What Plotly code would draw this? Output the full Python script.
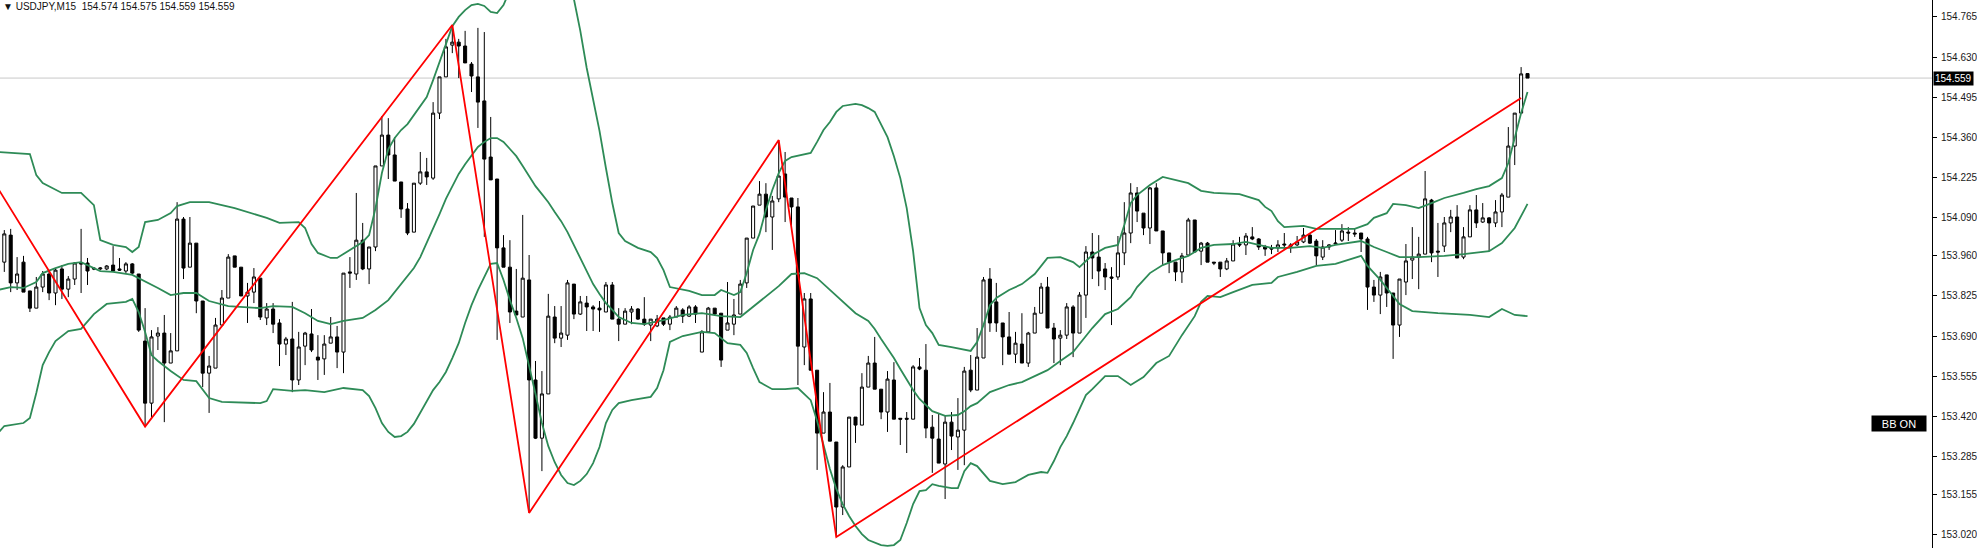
import plotly.graph_objects as go

# ---------------- data (USDJPY M15) ----------------
opens = [153.939,154.030,153.869,153.939,153.842,153.784,153.855,153.899,153.835,153.916,
153.848,153.882,153.936,153.936,153.919,153.916,153.916,153.929,153.916,153.909,
153.933,153.899,153.673,153.464,153.690,153.700,153.599,153.640,154.084,153.922,
154.003,153.808,153.565,153.582,153.727,153.818,153.960,153.922,153.825,153.838,
153.885,153.751,153.781,153.734,153.663,153.680,153.542,153.656,153.697,153.619,
153.613,153.666,153.687,153.636,153.906,153.899,154.013,153.916,153.990,154.263,
154.367,154.300,154.209,154.118,154.040,154.205,154.243,154.222,154.441,154.563,
154.670,154.680,154.667,154.606,154.563,154.482,154.293,154.219,153.987,153.922,
153.774,153.754,153.879,153.542,153.346,153.495,153.754,153.683,153.693,153.865,
153.764,153.801,153.788,153.784,153.771,153.862,153.747,153.730,153.771,153.781,
153.747,153.727,153.724,153.751,153.730,153.754,153.778,153.757,153.788,153.636,
153.704,153.784,153.767,153.710,153.730,153.764,153.869,154.020,154.131,154.168,
154.091,154.152,154.236,154.155,154.125,153.653,153.815,153.575,153.363,153.434,
153.333,153.114,153.249,153.417,153.390,153.518,153.599,153.511,153.434,153.542,
153.413,153.413,153.410,153.586,153.575,153.383,153.343,153.259,153.400,153.350,
153.373,153.575,153.508,153.616,153.882,153.805,153.734,153.687,153.629,153.663,
153.599,153.700,153.767,153.855,153.717,153.683,153.693,153.788,153.700,153.828,
153.973,153.956,153.916,153.889,153.889,153.970,154.037,154.172,154.104,154.054,
154.189,154.044,153.970,153.939,153.906,153.963,154.081,153.976,154.003,153.939,
153.939,153.916,153.943,154.000,153.997,154.024,154.017,153.990,153.987,153.987,
154.000,153.997,153.997,154.007,154.030,154.010,153.956,153.990,154.000,154.013,
154.040,154.037,154.037,154.017,153.855,153.828,153.896,153.835,153.727,153.872,
153.946,153.956,153.966,154.148,153.976,153.993,154.071,154.091,153.956,154.024,
154.115,154.074,154.088,154.071,154.108,154.158,154.330,154.441,154.574]

highs = [154.047,154.051,153.956,153.960,153.842,153.889,153.909,153.909,153.919,153.929,
153.892,153.939,154.051,153.953,153.922,153.922,153.929,153.993,153.953,153.939,
153.936,153.899,153.784,153.710,153.720,153.761,153.700,154.141,154.091,154.091,
154.003,153.808,153.623,153.751,153.845,153.966,153.960,153.922,153.869,153.919,
153.885,153.801,153.801,153.747,153.687,153.805,153.704,153.704,153.781,153.693,
153.693,153.754,153.724,153.902,153.956,154.172,154.071,153.990,154.263,154.431,
154.424,154.360,154.209,154.138,154.205,154.310,154.290,154.478,154.563,154.691,
154.738,154.691,154.718,154.613,154.728,154.714,154.428,154.219,154.030,154.013,
153.916,154.098,153.963,153.606,153.572,153.832,153.791,153.791,153.879,153.865,
153.825,153.825,153.794,153.808,153.872,153.872,153.784,153.784,153.791,153.784,
153.821,153.747,153.761,153.751,153.761,153.791,153.784,153.794,153.794,153.710,
153.788,153.784,153.767,153.872,153.815,153.879,154.020,154.128,154.212,154.205,
154.162,154.350,154.310,154.155,154.155,153.835,153.835,153.575,153.501,153.532,
153.333,153.255,153.417,153.417,153.565,153.623,153.687,153.511,153.572,153.602,
153.413,153.434,153.592,153.616,153.663,153.424,153.431,153.424,153.434,153.481,
153.586,153.626,153.717,153.889,153.919,153.869,153.734,153.771,153.704,153.767,
153.704,153.788,153.869,153.889,153.734,153.710,153.801,153.794,153.838,153.993,
154.037,154.030,153.936,153.922,154.027,154.141,154.205,154.192,154.104,154.192,
154.205,154.044,153.970,153.939,153.970,154.088,154.081,154.007,154.007,153.939,
153.939,153.953,154.013,154.024,154.037,154.057,154.020,153.997,153.997,154.013,
154.037,154.003,154.027,154.054,154.037,154.017,154.013,154.000,154.047,154.067,
154.057,154.051,154.037,154.024,153.879,153.906,153.896,153.835,153.882,154.000,
154.057,154.024,154.246,154.152,154.071,154.091,154.115,154.131,154.057,154.131,
154.165,154.138,154.091,154.148,154.172,154.394,154.441,154.596,154.575]

lows = [153.906,153.838,153.845,153.838,153.771,153.784,153.838,153.811,153.794,153.815,
153.821,153.862,153.835,153.862,153.912,153.912,153.912,153.909,153.909,153.902,
153.899,153.704,153.385,153.417,153.643,153.400,153.599,153.640,153.882,153.922,
153.767,153.518,153.431,153.582,153.727,153.818,153.922,153.825,153.734,153.801,
153.744,153.727,153.700,153.589,153.626,153.501,153.525,153.592,153.636,153.542,
153.559,153.666,153.582,153.565,153.852,153.879,153.912,153.865,153.976,154.263,
154.219,154.212,154.088,154.030,154.040,154.199,154.199,154.216,154.421,154.563,
154.643,154.559,154.610,154.512,154.391,154.024,154.216,153.677,153.922,153.734,
153.761,153.754,153.094,153.343,153.235,153.495,153.666,153.653,153.677,153.747,
153.761,153.707,153.707,153.704,153.771,153.747,153.673,153.730,153.730,153.744,
153.724,153.673,153.720,153.724,153.710,153.754,153.734,153.754,153.734,153.636,
153.704,153.761,153.586,153.710,153.693,153.764,153.852,154.020,154.131,154.040,
153.980,154.141,154.074,154.047,153.525,153.592,153.575,153.239,153.363,153.336,
153.013,153.087,153.249,153.330,153.390,153.518,153.511,153.410,153.367,153.410,
153.323,153.296,153.410,153.575,153.346,153.229,153.262,153.141,153.306,153.239,
153.255,153.501,153.508,153.616,153.704,153.704,153.592,153.629,153.599,153.599,
153.586,153.700,153.767,153.717,153.599,153.592,153.680,153.619,153.700,153.751,
153.882,153.858,153.845,153.727,153.879,153.929,154.003,154.074,154.030,154.000,
154.044,153.929,153.902,153.875,153.869,153.963,153.973,153.929,153.939,153.929,
153.889,153.912,153.943,153.990,153.963,154.013,153.980,153.960,153.966,153.973,
153.980,153.970,153.993,154.003,154.000,153.929,153.946,153.980,153.997,154.007,
154.010,154.024,153.973,153.778,153.805,153.764,153.788,153.613,153.687,153.828,
153.882,153.848,153.966,153.939,153.889,153.973,154.040,153.953,153.949,154.024,
154.054,154.071,153.976,154.057,154.057,154.158,154.266,154.441,154.559]

closes = [154.034,153.869,153.899,153.838,153.784,153.855,153.899,153.835,153.912,153.848,
153.882,153.936,153.933,153.909,153.916,153.919,153.926,153.909,153.912,153.933,
153.902,153.710,153.464,153.687,153.700,153.599,153.640,154.084,153.919,154.003,
153.808,153.565,153.589,153.727,153.818,153.956,153.922,153.825,153.838,153.889,
153.754,153.781,153.730,153.663,153.680,153.542,153.653,153.700,153.643,153.609,
153.663,153.687,153.636,153.902,153.902,154.013,153.916,153.990,154.263,154.367,
154.300,154.212,154.118,154.037,154.205,154.243,154.226,154.441,154.563,154.664,
154.680,154.667,154.610,154.566,154.478,154.286,154.216,153.987,153.922,153.771,
153.761,153.885,153.542,153.346,153.495,153.757,153.683,153.700,153.869,153.764,
153.805,153.788,153.781,153.778,153.862,153.747,153.730,153.774,153.781,153.747,
153.730,153.747,153.747,153.730,153.754,153.784,153.757,153.788,153.764,153.704,
153.784,153.764,153.609,153.734,153.761,153.865,154.020,154.128,154.168,154.091,
154.145,154.229,154.158,154.125,153.656,153.815,153.575,153.363,153.434,153.336,
153.114,153.249,153.417,153.390,153.518,153.599,153.511,153.434,153.545,153.410,
153.410,153.410,153.586,153.579,153.380,153.346,153.262,153.400,153.353,153.373,
153.572,153.508,153.619,153.879,153.734,153.734,153.687,153.629,153.666,153.599,
153.700,153.767,153.855,153.717,153.680,153.693,153.788,153.700,153.828,153.973,
153.953,153.909,153.889,153.885,153.970,154.037,154.172,154.111,154.054,154.189,
154.044,153.970,153.939,153.906,153.960,154.081,153.973,154.003,153.939,153.936,
153.916,153.943,154.000,153.997,154.027,154.017,153.990,153.983,153.983,153.997,
153.997,153.993,154.007,154.030,154.003,153.960,153.990,153.997,154.003,154.044,
154.037,154.034,154.017,153.855,153.828,153.889,153.835,153.727,153.882,153.943,
153.956,153.966,154.152,153.970,153.973,154.071,154.091,153.953,154.024,154.115,
154.071,154.088,154.071,154.108,154.165,154.330,154.441,154.573,154.559]

bars = list(range(len(closes)))

# Bollinger bands
bb_up_idx = [-1,4,5,6,9,12,14,15,17,19,20,21,22,24,26,27,29,32,36,41,43,46,47,48,49,51,52,54,56,57,
58,59,60,61,62,63,65,66,67,68,69,70,71,72,73,74,75,76,77,78,80,83,86,88,89,90,91,92,93,94,
95,96,97,99,101,102,103,104,107,109,111,112,114,115,116,117,118,119,120,121,122,123,125,126,127,128,129,130,
131,133,134,135,136,137,138,139,140,141,142,143,144,145,146,148,150,151,152,153,154,155,157,159,161,163,
165,167,168,170,172,174,175,176,177,179,181,183,185,187,189,193,196,197,198,199,200,203,205,209,211,213,
214,216,217,219,221,223,225,228,230,232,234,235,236,237,238]
bb_up = [154.310,154.303,154.232,154.205,154.172,154.172,154.131,154.013,153.997,153.990,153.973,153.990,154.074,154.081,154.104,154.128,154.141,154.141,154.121,154.088,154.071,154.074,154.054,154.000,153.970,153.953,153.953,153.980,154.007,154.030,
154.121,154.239,154.320,154.357,154.384,154.404,154.462,154.495,154.552,154.613,154.677,154.734,154.765,154.788,154.805,154.809,154.802,154.782,154.778,154.805,154.906,154.990,154.957,154.873,154.825,154.718,154.593,154.492,154.381,154.256,
154.138,154.037,154.010,153.987,153.973,153.953,153.912,153.855,153.842,153.828,153.828,153.845,153.828,153.838,153.902,153.980,154.034,154.115,154.182,154.239,154.280,154.293,154.303,154.307,154.344,154.384,154.411,154.445,
154.465,154.472,154.468,154.458,154.445,154.404,154.360,154.296,154.222,154.121,153.976,153.784,153.727,153.700,153.660,153.653,153.646,153.640,153.670,153.727,153.794,153.818,153.845,153.865,153.899,153.953,
153.956,153.939,153.922,153.963,153.987,153.997,154.064,154.138,154.165,154.199,154.226,154.216,154.205,154.179,154.172,154.168,154.148,154.125,154.111,154.077,154.057,154.061,154.051,154.051,154.051,154.067,
154.088,154.104,154.135,154.131,154.121,154.138,154.155,154.172,154.185,154.195,154.222,154.273,154.357,154.441,154.512]

bb_mid_idx = [-1,1,3,5,6,8,10,12,15,17,20,22,24,26,28,30,32,35,40,42,45,47,49,51,53,56,58,60,62,64,
65,66,67,68,69,70,71,72,73,74,75,76,77,78,79,80,81,82,83,84,85,86,87,88,89,90,91,92,93,94,
95,96,98,100,103,106,109,112,115,117,119,121,123,125,127,129,131,133,135,136,137,138,139,140,141,142,143,144,145,147,
149,150,151,152,154,157,159,161,163,165,167,168,170,172,174,176,177,179,181,183,185,187,189,192,194,196,198,201,204,206,
208,212,214,216,218,221,225,228,232,234,236,238]
bb_mid = [153.845,153.855,153.852,153.872,153.902,153.919,153.933,153.939,153.909,153.906,153.896,153.875,153.852,153.828,153.835,153.835,153.808,153.791,153.784,153.791,153.788,153.767,153.741,153.730,153.741,153.751,153.778,153.811,153.865,153.919,
153.956,154.003,154.051,154.101,154.152,154.195,154.236,154.269,154.300,154.327,154.344,154.357,154.357,154.344,154.320,154.296,154.263,154.229,154.195,154.168,154.141,154.108,154.077,154.040,153.997,153.949,153.909,153.865,153.832,153.801,
153.778,153.754,153.734,153.730,153.744,153.761,153.767,153.757,153.754,153.788,153.821,153.858,153.899,153.902,153.885,153.845,153.805,153.767,153.741,153.714,153.680,153.650,153.616,153.579,153.542,153.508,153.478,153.458,153.437,153.421,
153.424,153.437,153.454,153.464,153.501,153.525,153.535,153.555,153.575,153.606,153.636,153.663,153.717,153.764,153.781,153.821,153.855,153.902,153.929,153.946,153.960,153.987,153.997,154.000,154.007,153.997,153.987,153.987,153.993,153.987,
153.997,154.010,153.990,153.973,153.956,153.956,153.960,153.966,153.976,154.003,154.054,154.135]

bb_lo_idx = [-1,0,3,4,5,6,7,8,10,12,14,16,19,20,21,22,23,24,26,28,30,32,34,40,41,42,45,47,50,53,
56,57,58,59,60,61,62,63,64,65,66,67,68,69,70,71,72,73,74,75,76,77,78,79,80,81,82,83,84,85,
86,87,88,89,90,91,92,93,94,95,96,98,101,102,103,104,106,109,111,112,113,115,116,117,118,120,122,124,126,127,
128,129,130,131,132,133,134,135,137,138,139,140,141,142,143,144,145,146,148,149,150,151,152,153,154,156,158,160,162,163,
164,165,166,167,168,169,170,172,174,176,178,180,182,184,186,187,188,190,192,195,198,199,202,205,208,210,212,213,215,217,
218,220,224,229,232,234,236,238]
bb_lo = [153.363,153.387,153.397,153.414,153.498,153.592,153.636,153.673,153.707,153.714,153.764,153.798,153.805,153.815,153.771,153.704,153.626,153.606,153.572,153.542,153.538,153.481,153.468,153.464,153.471,153.511,153.505,153.508,153.501,153.515,
153.508,153.488,153.447,153.397,153.367,153.350,153.353,153.367,153.394,153.431,153.468,153.508,153.535,153.569,153.616,153.666,153.734,153.794,153.845,153.892,153.933,153.936,153.879,153.811,153.751,153.683,153.592,153.495,153.397,153.319,
153.265,153.222,153.195,153.188,153.202,153.225,153.262,153.316,153.397,153.441,153.464,153.474,153.485,153.515,153.575,153.670,153.690,153.704,153.700,153.683,153.666,153.660,153.633,153.582,153.535,153.511,153.511,153.515,153.474,153.404,
153.319,153.242,153.175,153.124,153.084,153.050,153.023,153.003,152.986,152.983,152.986,153.003,153.060,153.124,153.168,153.171,153.191,153.185,153.178,153.178,153.235,153.262,153.252,153.225,153.202,153.191,153.198,153.222,153.232,153.229,
153.269,153.316,153.353,153.397,153.447,153.491,153.511,153.555,153.555,153.525,153.552,153.599,153.623,153.693,153.757,153.805,153.825,153.821,153.838,153.862,153.869,153.889,153.906,153.926,153.933,153.946,153.960,153.926,153.879,153.825,
153.798,153.774,153.767,153.761,153.754,153.781,153.761,153.757]

# ZigZag swing points
zz_idx = [-10, 22, 70, 82, 121, 130, 237]
zz_val = [154.502, 153.385, 154.738, 153.094, 154.350, 153.013, 154.492]

price_ticks = [154.765, 154.630, 154.495, 154.360, 154.225, 154.090, 153.960,
               153.825, 153.690, 153.555, 153.420, 153.285, 153.155, 153.020]

symbol = "USDJPY,M15"

# ---------------- figure ----------------
W, H = 1977, 548
FONT = "Liberation Sans, Arial, sans-serif"
fig = go.Figure()

fig.add_trace(go.Candlestick(
    x=bars, open=opens, high=highs, low=lows, close=closes,
    increasing=dict(line=dict(color="black", width=1), fillcolor="white"),
    decreasing=dict(line=dict(color="black", width=1), fillcolor="black"),
    whiskerwidth=0, showlegend=False, hoverinfo="skip"))

band_col = "#2e8b57"
for xi, yi in ((bb_up_idx, bb_up), (bb_mid_idx, bb_mid), (bb_lo_idx, bb_lo)):
    fig.add_trace(go.Scatter(x=xi, y=yi, mode="lines",
                             line=dict(color=band_col, width=1.8),
                             showlegend=False, hoverinfo="skip"))

fig.add_trace(go.Scatter(x=zz_idx, y=zz_val, mode="lines",
                         line=dict(color="#ff0000", width=1.8),
                         showlegend=False, hoverinfo="skip"))

last = closes[-1]
fig.add_shape(type="line", xref="paper", x0=0, x1=1, y0=last, y1=last,
              line=dict(color="#c8c8c8", width=1), layer="below")

fig.add_annotation(xref="paper", yref="paper", x=0.0, y=1.0, xanchor="left", yanchor="top",
                   xshift=1, yshift=1, showarrow=False, align="left",
                   text=f"▼ {symbol}\u00a0\u00a0{opens[-1]:.3f} {highs[-1]:.3f} {lows[-1]:.3f} {closes[-1]:.3f}",
                   font=dict(family=FONT, size=10, color="#111111"))

fig.add_annotation(xref="paper", yref="y", x=1.0, y=last, xanchor="left", yanchor="middle",
                   xshift=1, showarrow=False, text=f"{last:.3f}", bgcolor="black",
                   borderpad=1, font=dict(family=FONT, size=10, color="white"))

fig.add_annotation(xref="paper", yref="paper", x=0.9974, y=0.228, xanchor="right", yanchor="middle",
                   showarrow=False, text="BB ON", bgcolor="black", width=52, height=13,
                   borderpad=1, font=dict(family=FONT, size=11, color="white"))

fig.update_layout(
    width=W, height=H, autosize=False,
    margin=dict(l=0, r=45, t=0, b=0, pad=0),
    paper_bgcolor="white", plot_bgcolor="white",
    boxgap=0.32,
    xaxis=dict(range=[-0.672, 301.2], visible=False, rangeslider=dict(visible=False),
               showgrid=False, zeroline=False),
    yaxis=dict(range=[152.976, 154.822], side="right", showgrid=False, zeroline=False,
               showline=True, linecolor="black", linewidth=1,
               ticks="outside", ticklen=4, tickcolor="black", tickwidth=1,
               tickvals=price_ticks, ticktext=[f"{v:.3f}" for v in price_ticks],
               tickfont=dict(family=FONT, size=10, color="#1a1a1a"),
               ticklabelstandoff=2),
)

fig.write_html("out.html",
               config={"displayModeBar": False, "staticPlot": True},
               post_script="document.body.style.margin='0';document.body.style.overflow='hidden';")
